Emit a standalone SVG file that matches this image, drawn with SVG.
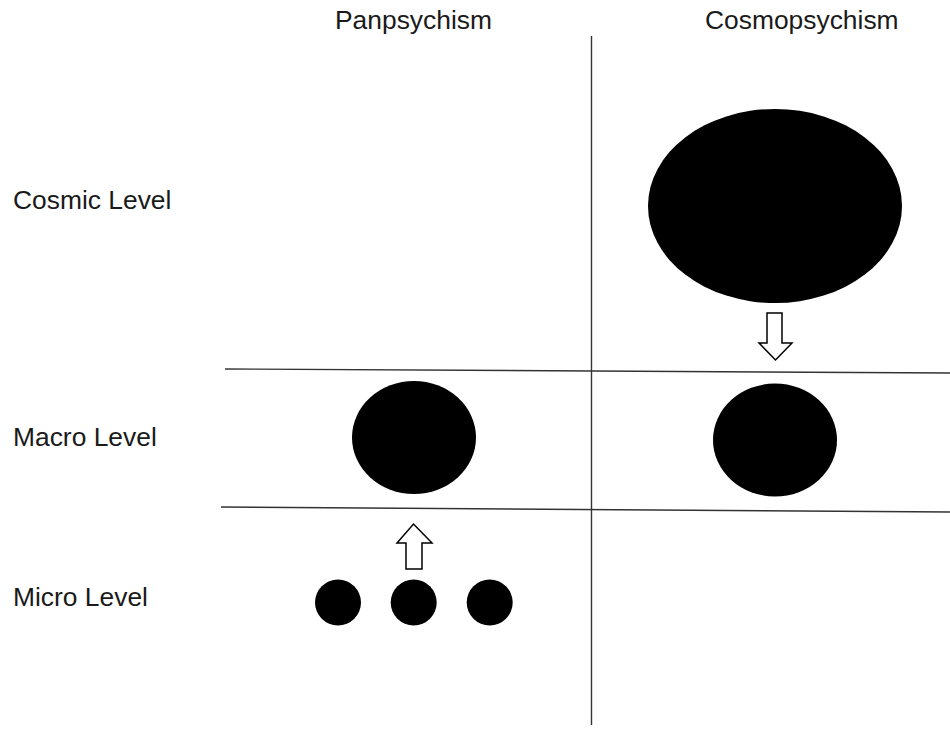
<svg xmlns="http://www.w3.org/2000/svg" width="950" height="731" viewBox="0 0 950 731">
<style>
text{font-family:"Liberation Sans",Arial,sans-serif;font-size:26.4px;fill:#1a1a1a}
.grid{stroke:#333;stroke-width:1.4;fill:none}
.blob{fill:#000}
.arrow{fill:#fff;stroke:#000;stroke-width:1.5;stroke-linejoin:miter}
</style>
<rect width="950" height="731" fill="#fff"/>
<g id="labels">
<text x="413.5" y="29" text-anchor="middle">Panpsychism</text>
<text x="705" y="29">Cosmopsychism</text>
<text x="13" y="209">Cosmic Level</text>
<text x="13" y="446">Macro Level</text>
<text x="13" y="606">Micro Level</text>
</g>
<g id="grid">
<line class="grid" x1="591.5" y1="36" x2="591.5" y2="725"/>
<line class="grid" x1="225" y1="369" x2="950" y2="373"/>
<line class="grid" x1="221" y1="507" x2="950" y2="512"/>
</g>
<g id="cosmic-mind"><ellipse class="blob" cx="775" cy="206" rx="127" ry="97"/></g>
<g id="macro-pan"><ellipse class="blob" cx="414" cy="437.5" rx="62" ry="56.5"/></g>
<g id="macro-cosmo"><ellipse class="blob" cx="775" cy="440" rx="62" ry="56.5"/></g>
<g id="micro-1"><circle class="blob" cx="338" cy="602.5" r="23"/></g>
<g id="micro-2"><circle class="blob" cx="413.7" cy="602.5" r="23"/></g>
<g id="micro-3"><circle class="blob" cx="489.7" cy="602.5" r="23"/></g>
<g id="connectors">
<polygon class="arrow" points="767,313 782,313 782,343 792,343 775.5,360 759,343 767,343"/>
<polygon class="arrow" points="406,569 422,569 422,543 432,543 413.5,524 397,543 406,543"/>
</g>
</svg>
